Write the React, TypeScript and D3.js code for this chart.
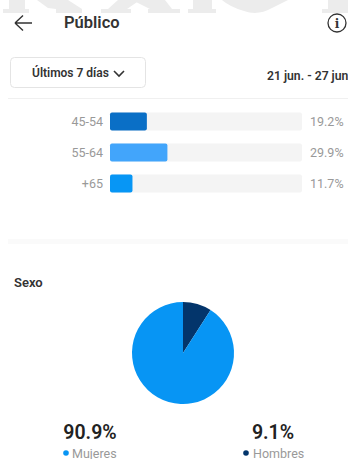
import React from "react";
import * as d3 from "d3";

const ageGroups = ["45-54", "55-64", "+65"];
const agePercents = [19.2, 29.9, 11.7];
const ageColors = ["#0a6fc6", "#42a5fb", "#0796f5"];
const sexLabels = ["Hombres", "Mujeres"];
const sexPercents = [9.1, 90.9];
const sexColors = ["#03356b", "#0795f4"];

const font = "Roboto, sans-serif";

// Pale masthead lettering cut off by the top of the page
const mastheadShapes = [
  "M3 13H29V9H25V0H9V9H3Z",
  "M37 0H68L82 9V13H56V9L48 8Z",
  "M118 0H140L127 9H131V13H101V9H108Z",
  "M132 0H165L172 9H180V13H148V9H150Z",
  "M188 13H216V9H212V0H193V9H188Z",
  "M222 0H288L272 8Q258 16 244 11Q230 7 222 0Z",
  "M322 13H348V0H328V9H322Z",
];

export default function App() {
  const x = d3.scaleLinear().domain([0, 100]).range([110, 302]);
  const y = d3.scaleBand().domain(ageGroups).range([112.5, 192.5]).paddingInner(0.42).paddingOuter(0);
  const pie = d3.pie<number>().sort(null)(sexPercents);
  const arc = d3.arc<d3.PieArcDatum<number>>().innerRadius(0).outerRadius(51);

  return (
    <svg width={348} height={459} style={{ position: "fixed", left: 0, top: 0, background: "#fff" }} fontFamily={font}>
      <g fill="#ececec">
        {mastheadShapes.map((d) => <path key={d} d={d} />)}
      </g>
      <path d="M32 23H15M15 23L23 15.5M15 23L23 30.5" fill="none" stroke="#333" strokeWidth={1.4} />
      <text x={64} y={28} fontSize={16.5} fontWeight={600} fill="#333">Público</text>
      <circle cx={337} cy={23} r={9} fill="none" stroke="#333" strokeWidth={1.3} />
      <text x={337} y={27.5} fontSize={12} fontWeight={600} textAnchor="middle" fill="#333" fontFamily="DejaVu Serif">i</text>

      <rect x={10.5} y={57.5} width={135} height={30} rx={4} fill="#fff" stroke="#e4e4e4" />
      <text x={32} y={77} fontSize={12} fontWeight={600} fill="#333">Últimos 7 días</text>
      <path d="M114 71L119 76L124 71" fill="none" stroke="#333" strokeWidth={1.6} />
      <text x={267} y={80} fontSize={12.2} fontWeight={600} fill="#333">21 jun. - 27 jun</text>
      <line x1={8} x2={348} y1={98.5} y2={98.5} stroke="#f0f0f0" />

      {ageGroups.map((g, i) => (
        <g key={g}>
          <text x={103} y={y(g)! + y.bandwidth() / 2 + 4.5} fontSize={12.5} textAnchor="end" fill="#999">{g}</text>
          <rect x={x(0)} y={y(g)} width={x(100) - x(0)} height={y.bandwidth()} rx={2} fill="#f4f4f4" />
          <rect x={x(0)} y={y(g)} width={x(agePercents[i]) - x(0)} height={y.bandwidth()} rx={2} fill={ageColors[i]} />
          <text x={310} y={y(g)! + y.bandwidth() / 2 + 4.5} fontSize={12.5} fill="#999">{agePercents[i]}%</text>
        </g>
      ))}

      <rect x={8} y={239} width={340} height={5} fill="#fafafa" />

      <text x={14} y={287} fontSize={13} fontWeight={600} fill="#333">Sexo</text>
      <g transform="translate(183,353)">
        {pie.map((d, i) => <path key={sexLabels[i]} d={arc(d)!} fill={sexColors[i]} />)}
      </g>

      <text x={90} y={439} fontSize={19.5} fontWeight={600} textAnchor="middle" fill="#222">{sexPercents[1]}%</text>
      <circle cx={66} cy={453} r={2.8} fill={sexColors[1]} />
      <text x={72} y={457.5} fontSize={12.5} fill="#999">{sexLabels[1]}</text>
      <text x={273} y={439} fontSize={19.5} fontWeight={600} textAnchor="middle" fill="#222">{sexPercents[0]}%</text>
      <circle cx={246} cy={453} r={2.8} fill={sexColors[0]} />
      <text x={253} y={457.5} fontSize={12.5} fill="#999">{sexLabels[0]}</text>
    </svg>
  );
}
